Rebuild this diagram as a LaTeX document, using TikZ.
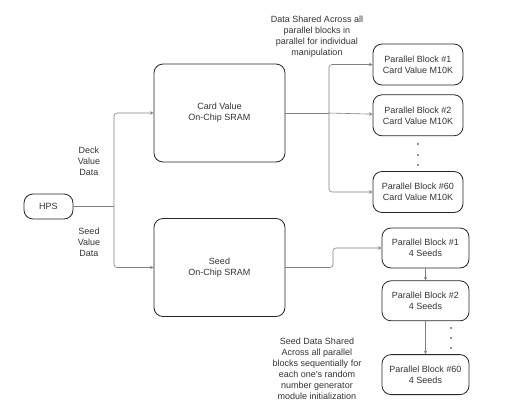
\documentclass[tikz,border=0pt]{standalone}
\usepackage{fontspec}
\setmainfont{Liberation Sans}
\usetikzlibrary{shapes,arrows,positioning,calc}

\begin{document}
\begin{tikzpicture}[
    x=1pt, y=-1pt,
    node distance=9pt,
    every node/.style={font=\fontsize{9}{11}\selectfont, text=black!80},
    box/.style={rectangle, draw=black!85, thick, rounded corners=9pt, align=center},
    hpsbox/.style={box, minimum width=49pt, minimum height=25pt},
    sram/.style={box, minimum width=131pt, minimum height=98pt},
    cardblock/.style={box, minimum width=90pt, minimum height=41pt},
    seedblock/.style={box, minimum width=87pt, minimum height=40pt},
    line/.style={draw=black!50, semithick, rounded corners=3pt},
    arrow/.style={line, ->, >=stealth},
    label/.style={align=center},
    dot/.style={fill=black!85}
]
\useasboundingbox (0,0) rectangle (512,410);

% HPS and the two memories
\node[hpsbox] (hps) at (48.5,206.5) {HPS};
\node[sram] (card) at (219.5,113) {Card Value\\On-Chip SRAM};
\node[sram] (seed) at (219.5,267.5) {Seed\\On-Chip SRAM};

% Card value parallel blocks
\node[cardblock] (pc1) at (418,64.5) {Parallel Block \#1\\Card Value M10K};
\node[cardblock, below=of pc1] (pc2) {Parallel Block \#2\\Card Value M10K};
\node[cardblock] (pc60) at (418,192) {Parallel Block \#60\\Card Value M10K};
\foreach \y in {144,155,165} \fill[dot] (418,\y) circle (0.85pt);

% Seed parallel blocks (chain)
\node[seedblock] (ps1) at (425.5,248) {Parallel Block \#1\\4 Seeds};
\node[seedblock, below=12pt of ps1] (ps2) {Parallel Block \#2\\4 Seeds};
\node[seedblock, below=33pt of ps2] (ps60) {Parallel Block \#60\\4 Seeds};
\foreach \y in {328,338,348} \fill[dot] (451,\y) circle (0.85pt);

% HPS split
\coordinate (split) at (114,206.5);
\draw[line] (hps) -- (split);
\draw[arrow] (split) |- (card);
\draw[arrow] (split) |- (seed);

\node[label] (decklbl) at (89,161) {Deck\\Value\\Data};
\node[label] (seedlbl) at (89,242) {Seed\\Value\\Data};

% Card value to every block
\coordinate (cardsplit) at (329,113);
\draw[line] (card) -- (cardsplit);
\draw[arrow] (cardsplit) |- (pc1);
\draw[arrow] (cardsplit) -- (pc2);
\draw[arrow] (cardsplit) |- (pc60);

\node[label] (sharedlbl) at (317,36.5) {Data Shared Across all\\parallel blocks in\\parallel for individual\\manipulation};

% Seed to first block, then down the chain
\coordinate (seedbend) at (333,267.5);
\draw[arrow] (seed) -- (seedbend) |- (ps1);
\draw[arrow] (ps1) -- (ps2);
\draw[arrow] (ps2) -- (ps60);

\node[label] (seqlbl) at (317,368.5) {Seed Data Shared\\Across all parallel\\blocks sequentially for\\each one's random\\number generator\\module initialization};

\end{tikzpicture}
\end{document}
